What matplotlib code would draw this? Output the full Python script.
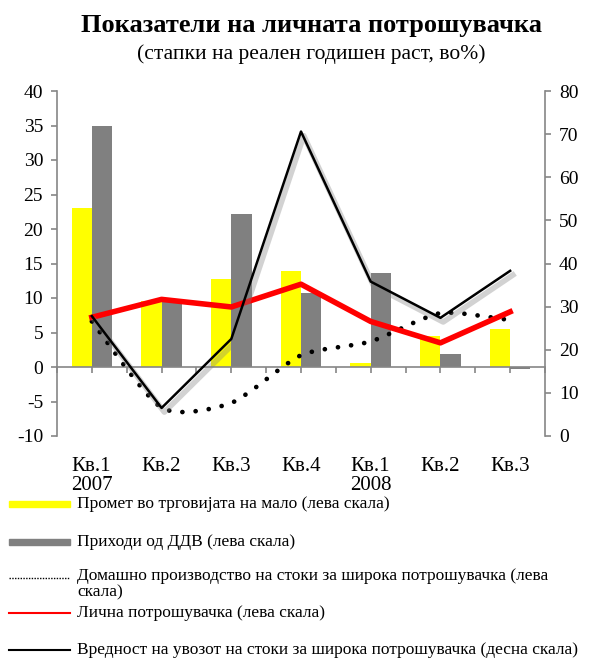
import matplotlib.pyplot as plt
import numpy as np
from matplotlib.path import Path
from matplotlib.patches import PathPatch, Rectangle
from matplotlib.lines import Line2D
import matplotlib.patheffects as pe

plt.rcParams['font.family'] = ['Liberation Serif', 'DejaVu Serif']
plt.rcParams['axes.unicode_minus'] = False

quarters = ['Кв.1\n2007', 'Кв.2', 'Кв.3', 'Кв.4', 'Кв.1\n2008', 'Кв.2', 'Кв.3']
retail = [23.0, 9.6, 12.7, 13.9, 0.6, 4.5, 5.5]          # yellow bars, left
vat = [34.9, 9.8, 22.2, 10.7, 13.6, 1.9, -0.3]           # gray bars, left
domestic = [6.6, -5.9, -5.2, 1.7, 3.7, 7.8, 6.8]         # dotted, left
consumption = [7.2, 9.8, 8.7, 12.0, 6.6, 3.5, 8.0]       # red, left
imports = [27.8, 6.5, 22.5, 70.6, 35.8, 27.4, 38.3]      # black, right

labels = ['Промет во трговијата на мало (лева скала)',
          'Приходи од ДДВ (лева скала)',
          'Домашно производство на стоки за широка потрошувачка (лева\nскала)',
          'Лична потрошувачка (лева скала)',
          'Вредност на увозот на стоки за широка потрошувачка (десна скала)']

axcol = '#868686'
x = np.arange(len(quarters))
w = 0.29


def smooth_path(xs, ys, t=0.35):
    # catmull-rom style bezier through the points (like excel smoothed line)
    xs = np.asarray(xs, float)
    ys = np.asarray(ys, float)
    n = len(xs)
    verts = [(xs[0], ys[0])]
    codes = [Path.MOVETO]
    for i in range(n - 1):
        p0 = np.array([xs[max(i - 1, 0)], ys[max(i - 1, 0)]])
        p1 = np.array([xs[i], ys[i]])
        p2 = np.array([xs[i + 1], ys[i + 1]])
        p3 = np.array([xs[min(i + 2, n - 1)], ys[min(i + 2, n - 1)]])
        c1 = p1 + (p2 - p0) * t / 3
        c2 = p2 - (p3 - p1) * t / 3
        verts += [tuple(c1), tuple(c2), tuple(p2)]
        codes += [Path.CURVE4] * 3
    return Path(verts, codes)


fig = plt.figure(figsize=(5.93, 6.59), dpi=100)
ax = fig.add_axes([57 / 593, 1 - 436 / 659, 488 / 593, 345 / 659])

ax.bar(x - w / 2, retail, w, color='#FFFF00', zorder=2)
ax.bar(x + w / 2, vat, w, color='#808080', zorder=2)

ax.add_patch(PathPatch(smooth_path(x, domestic), fill=False, edgecolor='black',
                       lw=3.4, linestyle=(0, (0.01, 2.8)), capstyle='round', zorder=3))
ax.plot(x, consumption, color='#FF0000', lw=4, zorder=4, solid_joinstyle='round')

ax.set_xlim(-0.5, len(quarters) - 0.5)
ax.set_ylim(-10, 40)
ax.set_yticks(np.arange(-10, 41, 5))
ax.spines['top'].set_visible(False)
ax.spines['right'].set_visible(False)
ax.spines['left'].set_color(axcol)
ax.spines['bottom'].set_color(axcol)
ax.spines['bottom'].set_position(('data', 0))
ax.spines['left'].set_linewidth(1.2)
ax.spines['bottom'].set_linewidth(1.2)
ax.set_xticks(x)
ax.set_xticks(np.arange(-0.5, len(quarters), 1), minor=True)
ax.set_xticklabels([])
ax.tick_params(axis='x', which='both', direction='out', length=4, color=axcol, width=1.2)
ax.tick_params(axis='y', direction='out', length=4, color=axcol, width=1.2,
               labelsize=14, pad=6)
ax.set_zorder(2)
ax.patch.set_visible(False)

# category labels sit under the plot area (excel "low" position)
for i, q in enumerate(quarters):
    ax.text(i, -0.06, q, transform=ax.get_xaxis_transform(),
            ha='center', va='top', fontsize=15, multialignment='left', linespacing=1.0)

ax2 = ax.twinx()
ax2.set_ylim(0, 80)
ax2.set_yticks(np.arange(0, 81, 10))
for s in ['top', 'left', 'bottom']:
    ax2.spines[s].set_visible(False)
ax2.spines['right'].set_color(axcol)
ax2.spines['right'].set_linewidth(1.2)
ax2.tick_params(axis='y', direction='out', length=4, color=axcol, width=1.2,
                labelsize=14, pad=6)
ax2.plot(x, imports, color='black', lw=1.8, zorder=5,
         path_effects=[pe.SimpleLineShadow(offset=(2, -3), shadow_color='gray', alpha=0.35, linewidth=4),
                       pe.Normal()])
ax2.set_zorder(3)
ax2.patch.set_visible(False)

fig.text(0.525, 0.962, 'Показатели на личната потрошувачка', ha='center', va='center',
         fontsize=19, fontweight='bold')
fig.text(0.525, 0.918, '(стапки на реален годишен раст, во%)', ha='center', va='center',
         fontsize=15.5)

# legend drawn in figure space to keep the excel-like spacing
ys = [504, 542, 578, 613, 650]
hx0, hx1 = 9 / 593, 70 / 593
tx = 77 / 593
for i, (lab, yp) in enumerate(zip(labels, ys)):
    yf = 1 - yp / 659
    if i in (0, 1):
        col = '#FFFF00' if i == 0 else '#808080'
        fig.add_artist(Rectangle((hx0, yf - 3 / 659), hx1 - hx0, 6 / 659,
                                 transform=fig.transFigure, color=col))
    elif i == 2:
        fig.add_artist(Line2D([hx0, hx1], [yf, yf], transform=fig.transFigure,
                              color='black', lw=1, linestyle=(0, (1, 1))))
    else:
        col = '#FF0000' if i == 3 else 'black'
        fig.add_artist(Line2D([hx0, hx1], [yf, yf], transform=fig.transFigure,
                              color=col, lw=1.5))
    if i == 2:
        fig.text(tx, yf + 10 / 659, lab, ha='left', va='top', fontsize=12.5, linespacing=1.05)
    else:
        fig.text(tx, yf, lab, ha='left', va='center', fontsize=12.5)

fig.savefig('out.png', dpi=100)
